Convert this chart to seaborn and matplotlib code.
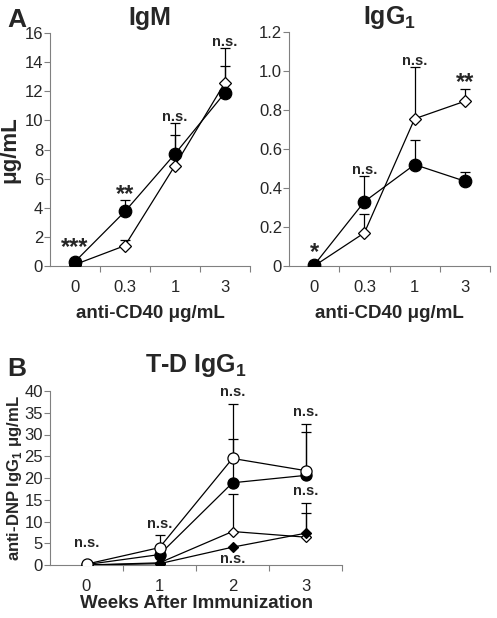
import numpy as np
import pandas as pd
import seaborn as sns
import matplotlib.pyplot as plt

sns.set_style("ticks")
plt.rcParams['font.family'] = ['Liberation Sans', 'DejaVu Sans']
plt.rcParams['mathtext.fontset'] = 'custom'
plt.rcParams['mathtext.rm'] = 'Liberation Sans'
plt.rcParams['mathtext.bf'] = 'Liberation Sans:bold'

# Panel A data
doses = ['0', '0.3', '1', '3']
igm_filled = [0.3, 3.75, 7.7, 11.9]
igm_filled_top = [0.3, 4.5, 9.8, 13.7]
igm_open = [0.1, 1.4, 6.9, 12.6]
igm_open_top = [0.1, 1.8, 9.0, 15.0]
igm_stars = ['***', '**', 'n.s.', 'n.s.']

igg_filled = [0.005, 0.33, 0.52, 0.435]
igg_filled_top = [0.005, 0.46, 0.645, 0.48]
igg_open = [0.0, 0.17, 0.755, 0.845]
igg_open_top = [0.0, 0.265, 1.02, 0.91]
igg_stars = ['*', 'n.s.', 'n.s.', '**']

# Panel B data
weeks = ['0', '1', '2', '3']
b_open_circle = [0.2, 4.0, 24.5, 21.7]
b_open_circle_top = [0.2, 6.8, 37.0, 32.3]
b_filled_circle = [0.1, 2.4, 18.9, 20.6]
b_filled_circle_top = [0.1, 2.4, 28.9, 30.6]
b_open_diamond = [0.0, 0.5, 7.7, 6.4]
b_open_diamond_top = [0.0, 0.5, 16.4, 14.2]
b_filled_diamond = [0.0, 0.3, 4.1, 7.3]
b_filled_diamond_top = [0.0, 0.3, 4.1, 12.0]


def series(ax, vals, top, marker, face, ms):
    x = np.arange(len(vals))
    df = pd.DataFrame({'x': x, 'y': vals})
    up = np.array(top) - np.array(vals)
    ax.errorbar(x, vals, yerr=[np.zeros(len(vals)), up], fmt='none',
                ecolor='black', elinewidth=0.9, capsize=3.5, capthick=0.9, zorder=2)
    sns.lineplot(data=df, x='x', y='y', ax=ax, color='black', lw=0.9,
                 marker=marker, markersize=ms, markerfacecolor=face,
                 markeredgecolor='black', markeredgewidth=0.9, zorder=3)


def style_axis(ax, labels, ymax, yticks, yticklabels):
    ax.set_xlim(-0.5, 3.5)
    ax.set_ylim(0, ymax)
    ax.set_xticks(range(4))
    ax.set_xticklabels(labels)
    ax.set_xticks([0.5, 1.5, 2.5, 3.5], minor=True)
    ax.tick_params(axis='x', which='major', length=0, labelsize=12, pad=10)
    ax.tick_params(axis='x', which='minor', length=4, color='gray', width=0.8)
    ax.set_yticks(yticks)
    ax.set_yticklabels(yticklabels)
    ax.tick_params(axis='y', length=4, color='gray', width=0.8, labelsize=12, pad=1)
    for s in ['top', 'right']:
        ax.spines[s].set_visible(False)
    for s in ['left', 'bottom']:
        ax.spines[s].set_color('gray')
        ax.spines[s].set_linewidth(0.8)


def annotate(ax, stars, tops, unit):
    # unit = data units per pixel
    for i, s in enumerate(stars):
        fs = 10.5 if s == 'n.s.' else 17
        ax.text(i, tops[i] + 2 * unit, s, ha='center', va='baseline',
                fontsize=fs, fontweight='bold')


fig = plt.figure(figsize=(4.97, 6.18), dpi=100)
W, H = 497, 618


def add_ax(x0, x1, ytop, ybot):
    return fig.add_axes([x0 / W, 1 - ybot / H, (x1 - x0) / W, (ybot - ytop) / H])


# IgM
ax1 = add_ax(50, 250, 33, 266)
series(ax1, igm_open, igm_open_top, 'D', 'white', 6)
series(ax1, igm_filled, igm_filled_top, 'o', 'black', 9)
style_axis(ax1, doses, 16, range(0, 17, 2), [str(v) for v in range(0, 17, 2)])
ax1.set_xlabel('anti-CD40 μg/mL', fontsize=13.5, fontweight='bold', labelpad=7)
ax1.set_ylabel('μg/mL', fontsize=16, fontweight='bold', labelpad=3)
ax1.set_title('IgM', fontsize=18, fontweight='bold', pad=6)
u1 = 16 / 233
igm_tops = [0.3 + 6 * u1, 4.5 - 3 * u1, 9.8, 15.0]
annotate(ax1, igm_stars, igm_tops, u1)

# IgG1
ax2 = add_ax(289, 490, 32, 266)
series(ax2, igg_open, igg_open_top, 'D', 'white', 6)
series(ax2, igg_filled, igg_filled_top, 'o', 'black', 9)
style_axis(ax2, doses, 1.2, np.arange(0, 1.21, 0.2),
           ['0', '0.2', '0.4', '0.6', '0.8', '1.0', '1.2'])
ax2.set_xlabel('anti-CD40 μg/mL', fontsize=13.5, fontweight='bold', labelpad=7)
ax2.set_ylabel('')
ax2.set_title('IgG$_\\mathbf{1}$', fontsize=18, fontweight='bold', pad=6)
u2 = 1.2 / 234
igg_tops = [0.0 + 5 * u2, 0.46, 1.02, 0.91 - 2 * u2]
annotate(ax2, igg_stars, igg_tops, u2)

# T-D IgG1
ax3 = add_ax(50, 342, 391, 565)
series(ax3, b_open_diamond, b_open_diamond_top, 'D', 'white', 5.5)
series(ax3, b_filled_diamond, b_filled_diamond_top, 'D', 'black', 5.5)
series(ax3, b_filled_circle, b_filled_circle_top, 'o', 'black', 8)
series(ax3, b_open_circle, b_open_circle_top, 'o', 'white', 8)
style_axis(ax3, weeks, 40, range(0, 41, 5), [str(v) for v in range(0, 41, 5)])
ax3.set_xlabel('Weeks After Immunization', fontsize=13.5, fontweight='bold', labelpad=1)
ax3.set_ylabel('anti-DNP IgG$_\\mathbf{1}$ μg/mL', fontsize=12, fontweight='bold', labelpad=0)
ax3.set_title('T-D IgG$_\\mathbf{1}$', fontsize=18, fontweight='bold', pad=14)
b_notes = [(0, 3.5), (1, 7.8), (2, 38.2), (3, 33.5), (3, 15.3), (2, -0.2)]
for x, y in b_notes:
    ax3.text(x, y, 'n.s.', ha='center', va='bottom', fontsize=10.5, fontweight='bold')

fig.text(7 / W, 1 - 27 / H, 'A', fontsize=19, fontweight='bold')
fig.text(7 / W, 1 - 376 / H, 'B', fontsize=19, fontweight='bold')

fig.savefig('out.png', dpi=100)
